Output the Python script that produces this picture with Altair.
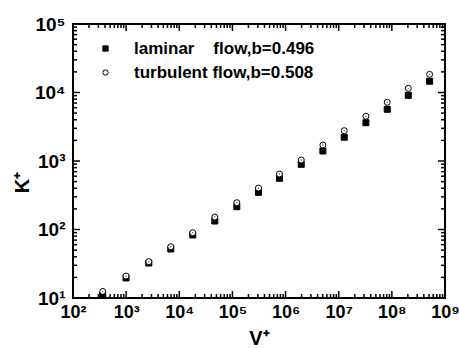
import altair as alt
import pandas as pd

# ---- data ----
V = [362, 995, 2670, 6920, 17900, 46600, 121000, 309000, 768000,
     1.97e6, 5.04e6, 1.27e7, 3.25e7, 8.18e7, 2.04e8, 5.13e8]
K_laminar = [11.0, 19.6, 32.4, 51.9, 83.2, 133, 215, 349, 559,
             895, 1400, 2220, 3620, 5690, 9100, 14600]
K_turbulent = [12.5, 20.9, 33.9, 56.1, 89.8, 152, 246, 403, 646,
               1035, 1714, 2770, 4500, 7200, 11500, 18400]
series_names = ["laminar\u00a0\u00a0\u00a0 flow,b=0.496", "turbulent flow,b=0.508"]

x_major = [1e2, 1e3, 1e4, 1e5, 1e6, 1e7, 1e8, 1e9]
y_major = [1e1, 1e2, 1e3, 1e4, 1e5]
x_minor = [float(d * 10 ** k) for k in range(2, 9) for d in range(2, 10)]
y_minor = [float(d * 10 ** k) for k in range(1, 5) for d in range(2, 10)]

W, H = 372, 274
MAJ, MIN = 7, 4

rows = []
for v, k in zip(V, K_laminar):
    rows.append({"V": v, "K": k, "series": series_names[0]})
for v, k in zip(V, K_turbulent):
    rows.append({"V": v, "K": k, "series": series_names[1]})
df = pd.DataFrame(rows)
df_turb = df[df["series"] == series_names[1]]

FONT = "Liberation Sans"
xs = alt.Scale(type="log", domain=[1e2, 1e9], nice=False)
ys = alt.Scale(type="log", domain=[1e1, 1e5], nice=False)

sup_expr = ("'10' + ['\u2070','\u00b9','\u00b2','\u00b3','\u2074','\u2075','\u2076','\u2077','\u2078','\u2079']"
            "[round(log(datum.value)/LN10)]")


def label_axis(orient, values, title, size, **kw):
    return alt.Axis(orient=orient, values=values, labelExpr=sup_expr, ticks=False,
                    domain=False, grid=False, labelFont=FONT, labelFontWeight="bold",
                    labelFontSize=size, labelColor="black", labelFlush=False,
                    labelOverlap=False, labelBound=False, title=title,
                    titleFont=FONT, titleFontWeight="bold", titleFontSize=20,
                    titleColor="black", **kw)


leg = alt.Legend(title=None, orient="none", legendX=24, legendY=16,
                 labelFont=FONT, labelFontSize=17, labelFontWeight="bold",
                 labelColor="black", symbolSize=28, symbolStrokeColor="black",
                 symbolStrokeWidth=1, labelOffset=20, rowPadding=6,
                 padding=0, labelLimit=400)

points = alt.Chart(df).mark_point(filled=True, strokeWidth=1,
                                  opacity=1, size=36).encode(
    x=alt.X("V:Q", scale=xs,
            axis=label_axis("bottom", x_major, "V\u207a", 18, labelPadding=5,
                            titleBaseline="alphabetic", titleY=46)),
    y=alt.Y("K:Q", scale=ys,
            axis=label_axis("left", y_major, "K\u207a", 19, labelPadding=8,
                            titleAngle=-90, titleBaseline="alphabetic",
                            titleAlign="center", titleX=-45, titleY=158)),
    shape=alt.Shape("series:N", scale=alt.Scale(domain=series_names, range=["square", "circle"]),
                    legend=leg),
    fill=alt.Fill("series:N", scale=alt.Scale(domain=series_names, range=["black", "white"]),
                  legend=leg),
    stroke=alt.Stroke("series:N", scale=alt.Scale(domain=series_names, range=["black", "black"]),
                      legend=leg),
    order=alt.Order("series:N"),
)

dots = alt.Chart(df_turb).mark_point(filled=True, color="black", size=2, shape="circle").encode(
    x=alt.X("V:Q", scale=xs),
    y=alt.Y("K:Q", scale=ys),
)


def xticks(values, y0, y1):
    return alt.Chart(pd.DataFrame({"tv": values})).mark_rule(color="black", strokeWidth=1.5).encode(
        x=alt.X("tv:Q", scale=xs), y=alt.value(y0), y2=alt.value(y1))


def yticks(values, x0, x1):
    return alt.Chart(pd.DataFrame({"tk": values})).mark_rule(color="black", strokeWidth=1.5).encode(
        y=alt.Y("tk:Q", scale=ys), x=alt.value(x0), x2=alt.value(x1))


ticks = [
    xticks(x_major, H, H - MAJ), xticks(x_minor, H, H - MIN),
    xticks(x_major, 0, MAJ), xticks(x_minor, 0, MIN),
    yticks(y_major, 0, MAJ), yticks(y_minor, 0, MIN),
    yticks(y_major, W, W - MAJ), yticks(y_minor, W, W - MIN),
]

chart = alt.layer(*ticks, points, dots).properties(
    width=W, height=H, autosize="none",
    padding={"left": 73, "top": 24, "right": 14, "bottom": 50},
    background="white",
).configure_view(stroke="black", strokeWidth=2)

chart.save("out.html", embed_options={"renderer": "svg", "actions": False})
